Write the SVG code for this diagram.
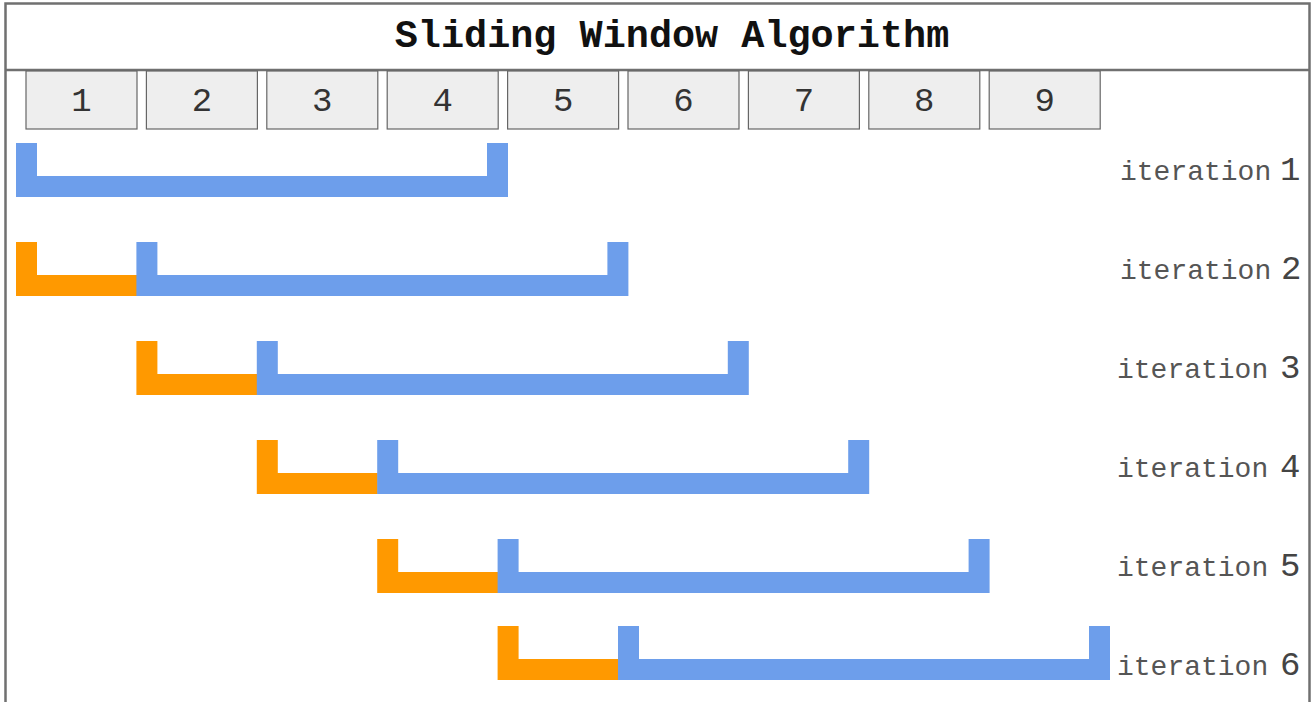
<svg xmlns="http://www.w3.org/2000/svg" width="1315" height="702" viewBox="0 0 1315 702">
<style>
.frame{fill:#fff;stroke:#707070;stroke-width:2.5}
.cell rect{fill:#eeeeee;stroke:#666;stroke-width:1.2}
.cell text{font-family:"Liberation Mono",monospace;font-size:34px;fill:#333;text-anchor:middle}
.title{font-family:"Liberation Mono",monospace;font-size:38.5px;font-weight:bold;fill:#111;text-anchor:middle}
.lbl{font-family:"Liberation Mono",monospace;font-size:28px;fill:#555}
.num{font-size:34px;fill:#444}
.blue{fill:#6d9eeb}
.orange{fill:#ff9900}
</style>
<rect class="frame" x="5.5" y="3.5" width="1304" height="720"/>
<line x1="5.5" y1="70" x2="1309.5" y2="70" stroke="#707070" stroke-width="2.5"/>
<text class="title" x="672" y="47">Sliding Window Algorithm</text>
<g id="cells">
<g class="cell" id="cell1"><rect x="26" y="71" width="111" height="58"/><text x="81.5" y="111">1</text></g>
<g class="cell" id="cell2"><rect x="146.4" y="71" width="111" height="58"/><text x="201.9" y="111">2</text></g>
<g class="cell" id="cell3"><rect x="266.8" y="71" width="111" height="58"/><text x="322.3" y="111">3</text></g>
<g class="cell" id="cell4"><rect x="387.2" y="71" width="111" height="58"/><text x="442.7" y="111">4</text></g>
<g class="cell" id="cell5"><rect x="507.6" y="71" width="111" height="58"/><text x="563.1" y="111">5</text></g>
<g class="cell" id="cell6"><rect x="628" y="71" width="111" height="58"/><text x="683.5" y="111">6</text></g>
<g class="cell" id="cell7"><rect x="748.4" y="71" width="111" height="58"/><text x="803.9" y="111">7</text></g>
<g class="cell" id="cell8"><rect x="868.8" y="71" width="111" height="58"/><text x="924.3" y="111">8</text></g>
<g class="cell" id="cell9"><rect x="989.2" y="71" width="111" height="58"/><text x="1044.7" y="111">9</text></g>
</g>
<g id="iter1">
<path class="blue" d="M16 143h21v33h450v-33h21v54h-492z"/>
<text class="lbl" x="1120" y="180">iteration<tspan class="num" x="1280">1</tspan></text>
</g>
<g id="iter2">
<path class="orange" d="M16 242h21v33h100v21h-121z"/>
<path class="blue" d="M136.4 242h21v33h450v-33h21v54h-492z"/>
<text class="lbl" x="1120" y="279">iteration<tspan class="num" x="1281">2</tspan></text>
</g>
<g id="iter3">
<path class="orange" d="M136.4 341h21v33h100v21h-121z"/>
<path class="blue" d="M256.8 341h21v33h450v-33h21v54h-492z"/>
<text class="lbl" x="1117" y="378">iteration<tspan class="num" x="1280">3</tspan></text>
</g>
<g id="iter4">
<path class="orange" d="M256.8 440h21v33h100v21h-121z"/>
<path class="blue" d="M377.2 440h21v33h450v-33h21v54h-492z"/>
<text class="lbl" x="1117" y="477">iteration<tspan class="num" x="1280">4</tspan></text>
</g>
<g id="iter5">
<path class="orange" d="M377.2 539h21v33h100v21h-121z"/>
<path class="blue" d="M497.6 539h21v33h450v-33h21v54h-492z"/>
<text class="lbl" x="1117" y="576">iteration<tspan class="num" x="1280">5</tspan></text>
</g>
<g id="iter6">
<path class="orange" d="M497.6 626h21v33h100v21h-121z"/>
<path class="blue" d="M618 626h21v33h450v-33h21v54h-492z"/>
<text class="lbl" x="1117" y="675">iteration<tspan class="num" x="1280">6</tspan></text>
</g>
<g id="connectors"/>
</svg>
